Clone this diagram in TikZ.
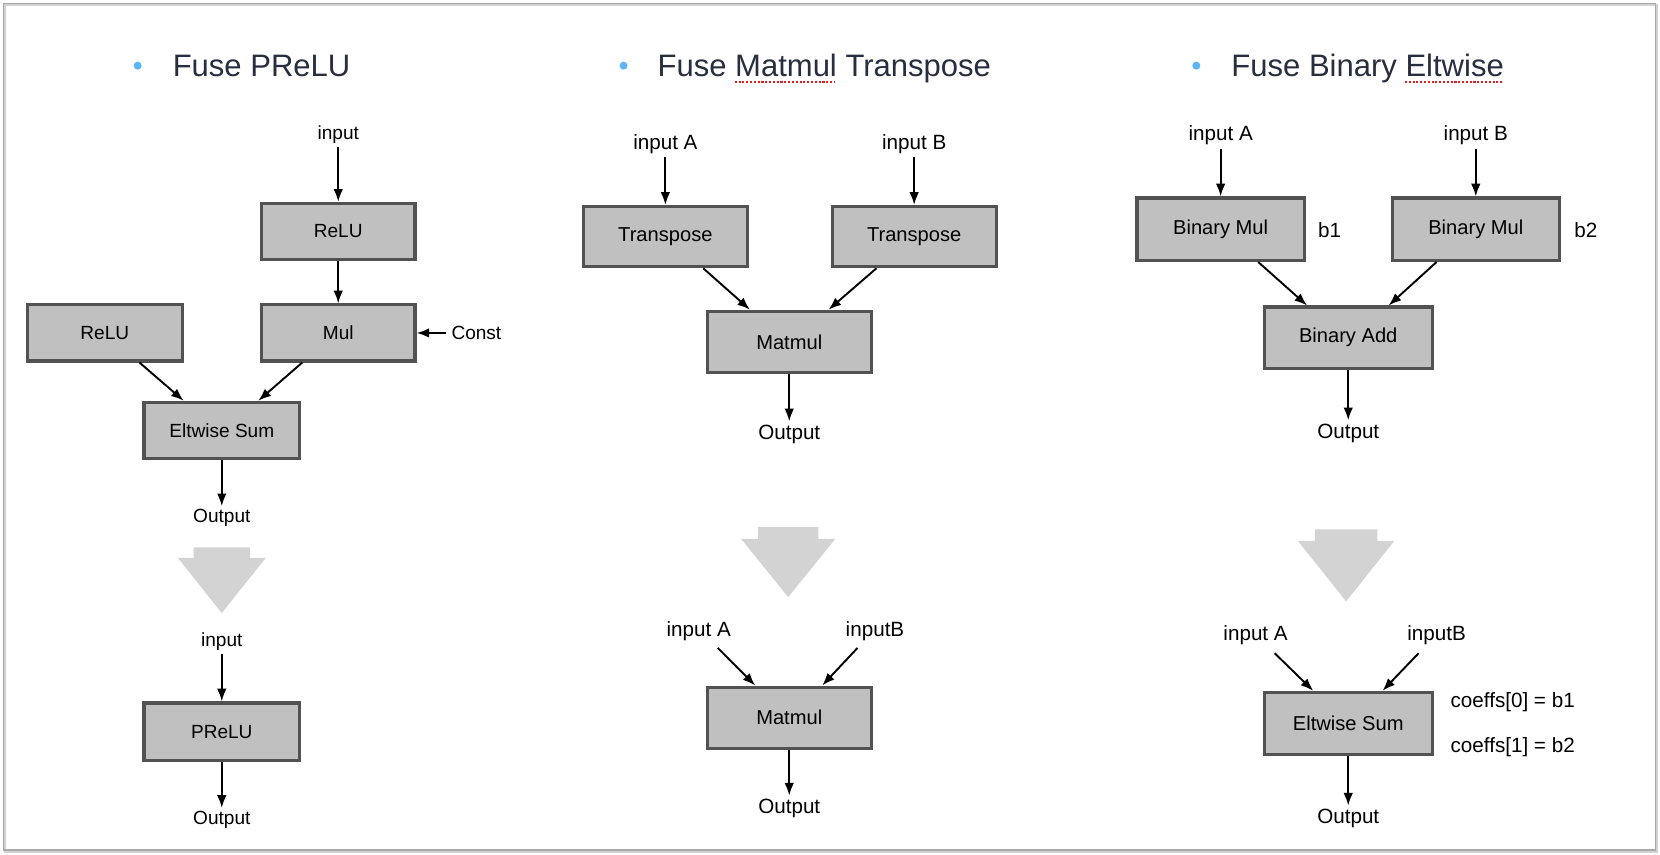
\documentclass[tikz,border=0pt]{standalone}
\usepackage{fontspec}
\setmainfont{Liberation Sans}
\usetikzlibrary{arrows.meta,calc}
\definecolor{boxfill}{HTML}{C0C0C0}
\definecolor{boxdraw}{HTML}{525252}
\definecolor{bigarr}{HTML}{D3D3D3}
\definecolor{titlecol}{HTML}{282E40}
\definecolor{bulletcol}{HTML}{5CB6F4}
\definecolor{framecol}{HTML}{A8A8A8}
\definecolor{spellred}{HTML}{E02020}
\begin{document}
\begin{tikzpicture}[x=1pt,y=-1pt,
  opbox/.style={draw=boxdraw,fill=boxfill,line width=2.9pt,inner sep=0pt,text=black},
  smallbox/.style={opbox,font=\fontsize{18}{20}\selectfont},
  bigbox/.style={opbox,font=\fontsize{19}{21}\selectfont},
  lbl/.style={inner sep=3pt,font=\fontsize{18}{20}\selectfont},
  biglbl/.style={inner sep=3pt,font=\fontsize{19.5}{22}\selectfont},
  arr/.style={-{Latex[length=12pt,width=9pt]},line width=1.8pt},
  title/.style={anchor=base west,inner sep=0pt,text=titlecol,font=\fontsize{29.3}{34}\selectfont},
  bullet/.style={circle,fill=bulletcol,inner sep=0pt,minimum size=7.6pt},
  bigarrow/.style={fill=bigarr},
  spell/.style={draw=spellred,line width=1.6pt,dash pattern=on 2pt off 1.6pt}
]
\useasboundingbox (0,0) rectangle (1568,807);
% frame
\draw[gray!35,line width=2pt] (5,5) rectangle (1565.5,804.5);
\draw[framecol,line width=1.3pt] (3.5,3.5) rectangle (1564,803);

% titles
\node[bullet] (b1) at (130,62) {};
\node[title] (t1) at (163,72.5) {Fuse PReLU};
\node[bullet] (b2) at (589,62) {};
\node[title] (t2) at (621,72.5) {Fuse Matmul Transpose};
\node[bullet] (b3) at (1130,62) {};
\node[title] (t3) at (1163,72.5) {Fuse Binary Eltwise};
\draw[spell] (694,77.5) -- (789,77.5);
\draw[spell] (1327,77.5) -- (1419,77.5);

% ---------------- panel 1 ----------------
\node[lbl] (in1) at (319.5,127) {input};
\node[smallbox,minimum width=145pt,minimum height=53pt] (relu1) at (319.5,218.5) {ReLU};
\node[smallbox,minimum width=145pt,minimum height=53pt] (mul) at (319.5,314.5) {Mul};
\node[smallbox,minimum width=146pt,minimum height=53pt] (reluL) at (99,314.5) {ReLU};
\node[lbl,inner sep=5pt] (const) at (450,314.5) {Const};
\node[smallbox,minimum width=147pt,minimum height=53pt] (elt1) at (209.5,406.5) {Eltwise Sum};
\node[lbl] (out1) at (209.5,489.5) {Output};
\draw[arr] (in1) -- (relu1);
\draw[arr] (relu1) -- (mul);
\draw[arr] (const) -- (mul);
\draw[arr] ($(reluL.south west)!0.72!(reluL.south east)$) -- ($(elt1.north west)!0.26!(elt1.north east)$);
\draw[arr] ($(mul.south west)!0.27!(mul.south east)$) -- ($(elt1.north west)!0.73!(elt1.north east)$);
\draw[arr] (elt1) -- (out1);

\fill[bigarrow] (183,517) -- (236,517) -- (236,527) -- (251,527) -- (209.5,579) -- (168,527) -- (183,527) -- cycle;

\node[lbl] (in1b) at (209.5,606) {input};
\node[smallbox,minimum width=147pt,minimum height=54pt] (prelu) at (209.5,691) {PReLU};
\node[lbl] (out1b) at (209.5,774.5) {Output};
\draw[arr] (in1b) -- (prelu);
\draw[arr] (prelu) -- (out1b);

% ---------------- panel 2 ----------------
\node[biglbl] (inA2) at (628.5,136) {input A};
\node[biglbl] (inB2) at (863.5,136) {input B};
\node[bigbox,minimum width=155pt,minimum height=57pt] (trL) at (628.5,223.5) {Transpose};
\node[bigbox,minimum width=155pt,minimum height=57pt] (trR) at (863.5,223.5) {Transpose};
\node[bigbox,minimum width=155pt,minimum height=58pt] (mm1) at (745.5,323) {Matmul};
\node[biglbl] (out2) at (745.5,410) {Output};
\draw[arr] (inA2) -- (trL);
\draw[arr] (inB2) -- (trR);
\draw[arr] ($(trL.south west)!0.727!(trL.south east)$) -- ($(mm1.north west)!0.265!(mm1.north east)$);
\draw[arr] ($(trR.south west)!0.274!(trR.south east)$) -- ($(mm1.north west)!0.735!(mm1.north east)$);
\draw[arr] (mm1) -- (out2);

\fill[bigarrow] (716,498) -- (773,498) -- (773,509) -- (789,509) -- (744.5,564) -- (700,509) -- (716,509) -- cycle;

\node[biglbl] (inA2b) at (660,596) {input A};
\node[biglbl] (inB2b) at (826.5,596) {inputB};
\coordinate (s2a) at (678,612);
\coordinate (s2b) at (810,612);
\node[bigbox,minimum width=155pt,minimum height=58pt] (mm2) at (745.5,678) {Matmul};
\node[biglbl] (out2b) at (745.5,763.5) {Output};
\draw[arr] (s2a) -- ($(mm2.north west)!0.297!(mm2.north east)$);
\draw[arr] (s2b) -- ($(mm2.north west)!0.697!(mm2.north east)$);
\draw[arr] (mm2) -- (out2b);

% ---------------- panel 3 ----------------
\node[biglbl] (inA3) at (1153,128) {input A};
\node[biglbl] (inB3) at (1394,128) {input B};
\node[bigbox,minimum width=158pt,minimum height=59pt] (bm1) at (1153,216.5) {Binary Mul};
\node[bigbox,minimum width=158pt,minimum height=59pt] (bm2) at (1394,216.5) {Binary Mul};
\node[biglbl] (lb1) at (1256,217) {b1};
\node[biglbl] (lb2) at (1498,217) {b2};
\node[bigbox,minimum width=159pt,minimum height=58pt] (ba) at (1273.5,319) {Binary Add};
\node[biglbl] (out3) at (1273.5,409) {Output};
\draw[arr] (inA3) -- (bm1);
\draw[arr] (inB3) -- (bm2);
\draw[arr] ($(bm1.south west)!0.72!(bm1.south east)$) -- ($(ba.north west)!0.26!(ba.north east)$);
\draw[arr] ($(bm2.south west)!0.27!(bm2.south east)$) -- ($(ba.north west)!0.736!(ba.north east)$);
\draw[arr] (ba) -- (out3);

\fill[bigarrow] (1242,500) -- (1301,500) -- (1301,511) -- (1317,511) -- (1271.5,568) -- (1226,511) -- (1242,511) -- cycle;

\node[biglbl] (inA3b) at (1186,600) {input A};
\node[biglbl] (inB3b) at (1357,600) {inputB};
\coordinate (s3a) at (1204,617);
\coordinate (s3b) at (1340,617);
\node[bigbox,minimum width=159pt,minimum height=59pt] (es) at (1273.5,683.5) {Eltwise Sum};
\node[biglbl,anchor=west,inner sep=0pt] (c0) at (1370,663) {coeffs[0] = b1};
\node[biglbl,anchor=west,inner sep=0pt] (c1) at (1370,706) {coeffs[1] = b2};
\node[biglbl] (out3b) at (1273.5,773) {Output};
\draw[arr] (s3a) -- ($(es.north west)!0.296!(es.north east)$);
\draw[arr] (s3b) -- ($(es.north west)!0.70!(es.north east)$);
\draw[arr] (es) -- (out3b);
\end{tikzpicture}
\end{document}
